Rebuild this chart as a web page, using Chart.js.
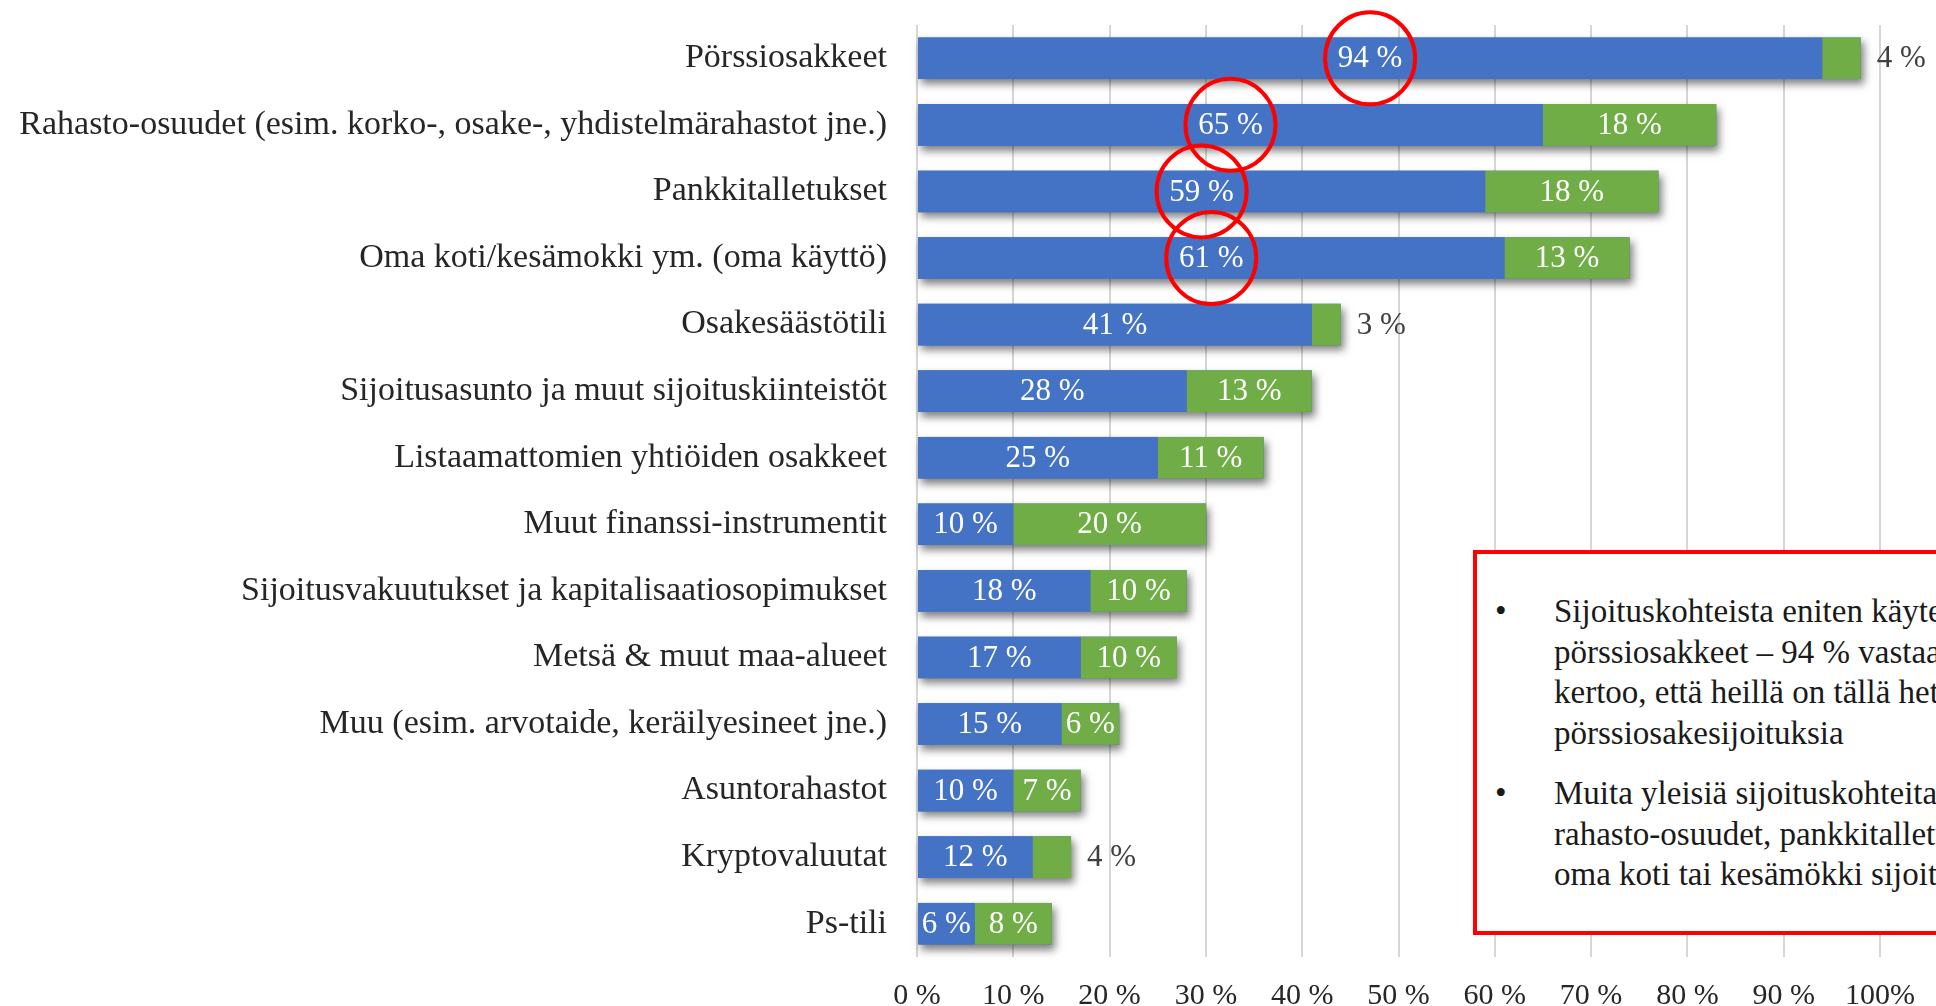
<!DOCTYPE html>
<html lang="fi">
<head>
<meta charset="utf-8">
<title>Sijoituskohteet</title>
<script src="https://cdn.jsdelivr.net/npm/chart.js@4.4.1/dist/chart.umd.min.js"></script>
<style>
  html, body { margin: 0; padding: 0; background: #fff; overflow: hidden; }
  #wrap { position: relative; width: 1936px; height: 1006px; }
  #kaavio { position: absolute; left: 0; top: 0; }
  .huomio {
    position: absolute; left: 1473px; top: 550px;
    width: 720px; height: 385px; box-sizing: border-box;
    border: 4px solid #ff0000; background: #fff;
    padding-top: 37px;
    font-family: 'Liberation Serif', 'Times New Roman', serif;
    font-size: 33px; line-height: 40.7px; color: #1a1a1a;
    white-space: nowrap;
  }
  .huomio p { position: relative; margin: 0 0 19px 0; padding-left: 77px; }
  .huomio p::before { content: '•'; position: absolute; left: 18px; top: 0; }
</style>
</head>
<body>
<div id="wrap">
  <canvas id="kaavio" width="1936" height="1006"></canvas>
  <div class="huomio">
    <p>Sijoituskohteista eniten käytettyjä ovat<br>pörssiosakkeet – 94 % vastaajista<br>kertoo, että heillä on tällä hetkellä<br>pörssiosakesijoituksia</p>
    <p>Muita yleisiä sijoituskohteita ovat<br>rahasto-osuudet, pankkitalletukset ja<br>oma koti tai kesämökki sijoituskohteena</p>
  </div>
</div>
<script>
const kategoriat = [
  'Pörssiosakkeet',
  'Rahasto-osuudet (esim. korko-, osake-, yhdistelmärahastot jne.)',
  'Pankkitalletukset',
  'Oma koti/kesämokki ym. (oma käyttö)',
  'Osakesäästötili',
  'Sijoitusasunto ja muut sijoituskiinteistöt',
  'Listaamattomien yhtiöiden osakkeet',
  'Muut finanssi-instrumentit',
  'Sijoitusvakuutukset ja kapitalisaatiosopimukset',
  'Metsä & muut maa-alueet',
  'Muu (esim. arvotaide, keräilyesineet jne.)',
  'Asuntorahastot',
  'Kryptovaluutat',
  'Ps-tili'
];
const sinisetArvot = [94, 65, 59, 61, 41, 28, 25, 10, 18, 17, 15, 10, 12, 6];
const vihreatArvot = [4, 18, 18, 13, 3, 13, 11, 20, 10, 10, 6, 7, 4, 8];
const tickLabels = ['0 %', '10 %', '20 %', '30 %', '40 %', '50 %', '60 %', '70 %', '80 %', '90 %', '100%'];
// rivit joiden sininen arvo on ympyröity punaisella
const ympyroidyt = [0, 1, 2, 3];

const fontti = "'Liberation Serif', 'Times New Roman', serif";
Chart.defaults.font.family = fontti;

// varjo koko palkin alle ennen varsinaisia palkkeja
const palkkiVarjo = {
  id: 'palkkiVarjo',
  beforeDatasetsDraw(chart) {
    const ctx = chart.ctx;
    const sininen = chart.getDatasetMeta(0).data;
    const vihrea = chart.getDatasetMeta(1).data;
    ctx.save();
    ctx.shadowColor = 'rgba(0, 0, 0, 0.5)';
    ctx.shadowBlur = 8;
    ctx.shadowOffsetX = 3;
    ctx.shadowOffsetY = 5;
    ctx.fillStyle = '#4472c4';
    sininen.forEach((bar, i) => {
      const g = vihrea[i];
      const vasen = Math.min(bar.base, g.base);
      const oikea = Math.max(bar.x, g.x);
      ctx.fillRect(vasen, bar.y - bar.height / 2, oikea - vasen, bar.height);
    });
    ctx.restore();
  }
};

const arvoTekstit = {
  id: 'arvoTekstit',
  afterDatasetsDraw(chart) {
    const ctx = chart.ctx;
    ctx.save();
    ctx.font = '31px ' + fontti;
    ctx.textBaseline = 'middle';
    chart.data.datasets.forEach((ds, d) => {
      chart.getDatasetMeta(d).data.forEach((bar, i) => {
        const teksti = ds.data[i] + ' %';
        const leveys = ctx.measureText(teksti).width;
        const palkki = Math.abs(bar.x - bar.base);
        if (leveys + 6 < palkki) {
          ctx.fillStyle = '#ffffff';
          ctx.textAlign = 'center';
          ctx.fillText(teksti, (bar.x + bar.base) / 2, bar.y + 1);
        } else {
          ctx.fillStyle = '#404040';
          ctx.textAlign = 'left';
          ctx.fillText(teksti, bar.x + 16, bar.y + 1);
        }
      });
    });

    const sininen = chart.getDatasetMeta(0).data;
    ctx.strokeStyle = '#ff0000';
    ctx.lineWidth = 4;
    ympyroidyt.forEach(i => {
      const bar = sininen[i];
      ctx.beginPath();
      ctx.ellipse((bar.x + bar.base) / 2, bar.y, 45, 46, 0, 0, Math.PI * 2);
      ctx.stroke();
    });
    ctx.restore();
  }
};

new Chart(document.getElementById('kaavio'), {
  type: 'bar',
  data: {
    labels: kategoriat,
    datasets: [
      { data: sinisetArvot, backgroundColor: '#4472c4', categoryPercentage: 1, barPercentage: 0.625 },
      { data: vihreatArvot, backgroundColor: '#70ad47', categoryPercentage: 1, barPercentage: 0.625 }
    ]
  },
  options: {
    indexAxis: 'y',
    responsive: false,
    animation: false,
    layout: { padding: { top: 25, right: 51, left: 0, bottom: 0 } },
    plugins: {
      legend: { display: false },
      tooltip: { enabled: false }
    },
    scales: {
      x: {
        stacked: true,
        min: 0,
        max: 100,
        ticks: {
          stepSize: 10,
          padding: 21,
          color: '#262626',
          font: { size: 30 },
          callback: (v, i) => tickLabels[i]
        },
        grid: { color: '#d6d6d6', lineWidth: 2, drawTicks: false, tickLength: 0 },
        border: { display: false },
        afterFit: scale => { scale.height = 49; }
      },
      y: {
        stacked: true,
        ticks: {
          padding: 30,
          color: '#262626',
          font: { size: 34 },
          autoSkip: false
        },
        grid: { display: false, drawTicks: false, tickLength: 0 },
        border: { display: false },
        afterFit: scale => {
          scale.width = 917;
          scale.paddingTop = 0;
          scale.paddingBottom = 0;
        }
      }
    }
  },
  plugins: [palkkiVarjo, arvoTekstit]
});
</script>
</body>
</html>
